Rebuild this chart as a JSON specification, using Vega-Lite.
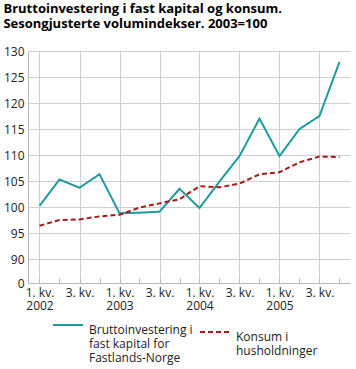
{
  "$schema": "https://vega.github.io/schema/vega-lite/v6.json",
  "width": 322,
  "height": 232,
  "padding": {"left": 3, "top": 3, "right": 6, "bottom": 50},
  "title": {
    "text": ["Bruttoinvestering i fast kapital og konsum.", "Sesongjusterte volumindekser. 2003=100"],
    "anchor": "start",
    "frame": "bounds",
    "font": "Open Sans",
    "fontSize": 13,
    "fontWeight": "bold",
    "color": "#000000",
    "lineHeight": 15,
    "offset": 14
  },
  "config": {
    "font": "Open Sans",
    "view": {"stroke": null},
    "legend": {"labelFont": "Open Sans", "labelFontSize": 12, "labelColor": "#222222"}
  },
  "datasets": {
    "d": [
      {"t": 0, "s": "Bruttoinvestering i fast kapital for Fastlands-Norge", "v": 100.2},
      {"t": 1, "s": "Bruttoinvestering i fast kapital for Fastlands-Norge", "v": 105.3},
      {"t": 2, "s": "Bruttoinvestering i fast kapital for Fastlands-Norge", "v": 103.7},
      {"t": 3, "s": "Bruttoinvestering i fast kapital for Fastlands-Norge", "v": 106.3},
      {"t": 4, "s": "Bruttoinvestering i fast kapital for Fastlands-Norge", "v": 98.8},
      {"t": 5, "s": "Bruttoinvestering i fast kapital for Fastlands-Norge", "v": 98.9},
      {"t": 6, "s": "Bruttoinvestering i fast kapital for Fastlands-Norge", "v": 99.1},
      {"t": 7, "s": "Bruttoinvestering i fast kapital for Fastlands-Norge", "v": 103.5},
      {"t": 8, "s": "Bruttoinvestering i fast kapital for Fastlands-Norge", "v": 99.8},
      {"t": 9, "s": "Bruttoinvestering i fast kapital for Fastlands-Norge", "v": 104.9},
      {"t": 10, "s": "Bruttoinvestering i fast kapital for Fastlands-Norge", "v": 109.8},
      {"t": 11, "s": "Bruttoinvestering i fast kapital for Fastlands-Norge", "v": 117.0},
      {"t": 12, "s": "Bruttoinvestering i fast kapital for Fastlands-Norge", "v": 109.8},
      {"t": 13, "s": "Bruttoinvestering i fast kapital for Fastlands-Norge", "v": 115.0},
      {"t": 14, "s": "Bruttoinvestering i fast kapital for Fastlands-Norge", "v": 117.5},
      {"t": 15, "s": "Bruttoinvestering i fast kapital for Fastlands-Norge", "v": 127.9},
      {"t": 0, "s": "Konsum i husholdninger", "v": 96.4},
      {"t": 1, "s": "Konsum i husholdninger", "v": 97.5},
      {"t": 2, "s": "Konsum i husholdninger", "v": 97.6},
      {"t": 3, "s": "Konsum i husholdninger", "v": 98.2},
      {"t": 4, "s": "Konsum i husholdninger", "v": 98.5},
      {"t": 5, "s": "Konsum i husholdninger", "v": 99.9},
      {"t": 6, "s": "Konsum i husholdninger", "v": 100.7},
      {"t": 7, "s": "Konsum i husholdninger", "v": 101.5},
      {"t": 8, "s": "Konsum i husholdninger", "v": 104.0},
      {"t": 9, "s": "Konsum i husholdninger", "v": 103.8},
      {"t": 10, "s": "Konsum i husholdninger", "v": 104.5},
      {"t": 11, "s": "Konsum i husholdninger", "v": 106.3},
      {"t": 12, "s": "Konsum i husholdninger", "v": 106.7},
      {"t": 13, "s": "Konsum i husholdninger", "v": 108.6},
      {"t": 14, "s": "Konsum i husholdninger", "v": 109.7},
      {"t": 15, "s": "Konsum i husholdninger", "v": 109.6}
    ]
  },
  "data": {"name": "d"},
  "mark": {"type": "line", "strokeWidth": 2},
  "encoding": {
    "x": {
      "field": "t", "type": "quantitative",
      "scale": {"domain": [-0.575, 15.525], "nice": false, "zero": false},
      "axis": {
        "values": [0, 1, 2, 3, 4, 5, 6, 7, 8, 9, 10, 11, 12, 13, 14, 15],
        "title": null,
        "grid": true,
        "gridColor": "#cfcfcf",
        "gridOpacity": {"condition": {"test": "datum.value % 2 == 0", "value": 1}, "value": 0},
        "ticks": true,
        "tickColor": "#b8b8b8",
        "tickSize": -5,
        "domainColor": "#b8b8b8",
        "labelExpr": "datum.value % 2 == 1 ? '' : (datum.value % 4 == 0 ? ['1. kv.', '' + (2002 + datum.value / 4)] : '3. kv.')",
        "labelFont": "Open Sans",
        "labelFontSize": 12,
        "labelColor": "#222222",
        "labelLineHeight": 13,
        "labelPadding": 9,
        "labelFlush": false,
        "labelOverlap": false
      }
    },
    "y": {
      "field": "v", "type": "quantitative",
      "scale": {"domain": [85.385, 130], "nice": false, "zero": false},
      "axis": {
        "values": [85.385, 90, 95, 100, 105, 110, 115, 120, 125, 130],
        "title": null,
        "domain": true,
        "domainColor": "#b8b8b8",
        "ticks": false,
        "grid": true,
        "gridColor": "#cfcfcf",
        "labelOverlap": false,
        "labelExpr": "datum.value < 89 ? '0' : datum.label",
        "labelFont": "Open Sans",
        "labelFontSize": 12,
        "labelColor": "#222222",
        "labelPadding": 4
      }
    },
    "color": {
      "field": "s", "type": "nominal",
      "scale": {
        "domain": ["Bruttoinvestering i fast kapital for Fastlands-Norge", "Konsum i husholdninger"],
        "range": ["#1f9b9b", "#a8191b"]
      },
      "legend": {
        "orient": "none",
        "legendX": 24,
        "legendY": 258,
        "direction": "horizontal",
        "columns": 2,
        "padding": 0,
        "title": null,
        "symbolType": "stroke",
        "symbolSize": 900,
        "symbolStrokeWidth": 2,
        "labelOffset": 5,
        "columnPadding": 3,
        "labelLineHeight": 14.5,
        "labelBaseline": "top",
        "labelExpr": "datum.label == 'Konsum i husholdninger' ? ['Konsum i', 'husholdninger'] : ['Bruttoinvestering i', 'fast kapital for', 'Fastlands-Norge']"
      }
    },
    "strokeDash": {
      "field": "s", "type": "nominal",
      "scale": {
        "domain": ["Bruttoinvestering i fast kapital for Fastlands-Norge", "Konsum i husholdninger"],
        "range": [[1, 0], [5, 3]]
      },
      "legend": null
    }
  }
}
